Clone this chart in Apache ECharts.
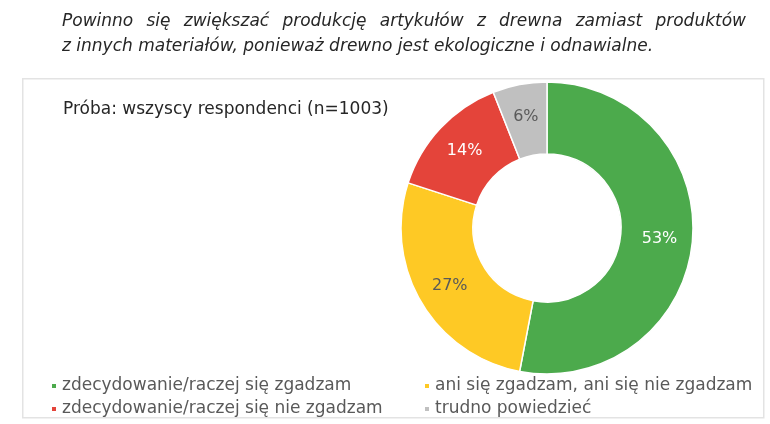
<!DOCTYPE html>
<html>
<head>
<meta charset="utf-8">
<script src="https://cdn.jsdelivr.net/npm/echarts@6/dist/echarts.min.js"></script>
<style>
  html, body { margin: 0; padding: 0; background: #fff; }
  #chart-container { width: 770px; height: 424px; }
</style>
</head>
<body>
<div id="chart-container"></div>
<script>
// data
const categories = [
  'zdecydowanie/raczej się zgadzam',
  'ani się zgadzam, ani się nie zgadzam',
  'zdecydowanie/raczej się nie zgadzam',
  'trudno powiedzieć'
];
const shares = [53, 27, 14, 6];
const colors = ['#4caa4c', '#fec925', '#e4443a', '#c0c0c0'];
const labelColors = ['#ffffff', '#595959', '#ffffff', '#595959'];

const titleLine1 = 'Powinno się zwiększać produkcję artykułów z drewna zamiast produktów';
const titleLine2 = 'z innych materiałów, ponieważ drewno jest ekologiczne i odnawialne.';
const sampleNote = 'Próba: wszyscy respondenci (n=1003)';

const FONT = '"DejaVu Sans", sans-serif';

let dom = document.getElementById('chart-container');
let myChart = echarts.init(dom, null, { renderer: 'canvas' });

// justify the first title line by spreading its words
function justifiedWords(text, x0, x1, y, font) {
  const ctx = document.createElement('canvas').getContext('2d');
  ctx.font = font;
  const words = text.split(' ');
  const widths = words.map(w => ctx.measureText(w).width);
  const total = widths.reduce((a, b) => a + b, 0);
  const gap = (x1 - x0 - total) / (words.length - 1);
  let x = x0;
  return words.map((w, i) => {
    const el = {
      type: 'text', left: x, top: y,
      style: { text: w, font: font, fill: '#262626' }
    };
    x += widths[i] + gap;
    return el;
  });
}

const titleFont = 'italic 17px ' + FONT;

let option = {
  graphic: [
    ...justifiedWords(titleLine1, 62, 746, 13, titleFont),
    {
      type: 'text', left: 62, top: 38,
      style: { text: titleLine2, font: titleFont, fill: '#262626' }
    },
    {
      type: 'rect', left: 22, top: 78, z: -1,
      shape: { width: 741, height: 339 },
      style: { fill: '#fff', stroke: '#e3e3e3', lineWidth: 1.5 }
    },
    {
      type: 'text', left: 63, top: 101,
      style: { text: sampleNote, font: '17px ' + FONT, fill: '#262626' }
    }
  ],
  legend: {
    left: 50,
    top: 377,
    width: 770,
    padding: 0,
    icon: 'rect',
    itemWidth: 6,
    itemHeight: 6,
    itemGap: 5,
    selectedMode: false,
    textStyle: {
      fontFamily: FONT,
      fontSize: 17,
      color: '#595959',
      width: 356,
      lineHeight: 18
    },
    data: categories
  },
  series: [
    {
      type: 'pie',
      center: [547, 228],
      radius: [74, 146],
      startAngle: 90,
      clockwise: true,
      animation: false,
      itemStyle: {
        borderColor: '#fff',
        borderWidth: 1.5
      },
      label: {
        show: true,
        position: 'inside',
        fontFamily: FONT,
        fontSize: 16,
        formatter: '{c}%'
      },
      labelLine: { show: false },
      emphasis: { disabled: true },
      data: categories.map((name, i) => ({
        name: name,
        value: shares[i],
        itemStyle: { color: colors[i] },
        label: { color: labelColors[i] }
      }))
    }
  ]
};

myChart.setOption(option);
window.addEventListener('resize', myChart.resize);
</script>
</body>
</html>
